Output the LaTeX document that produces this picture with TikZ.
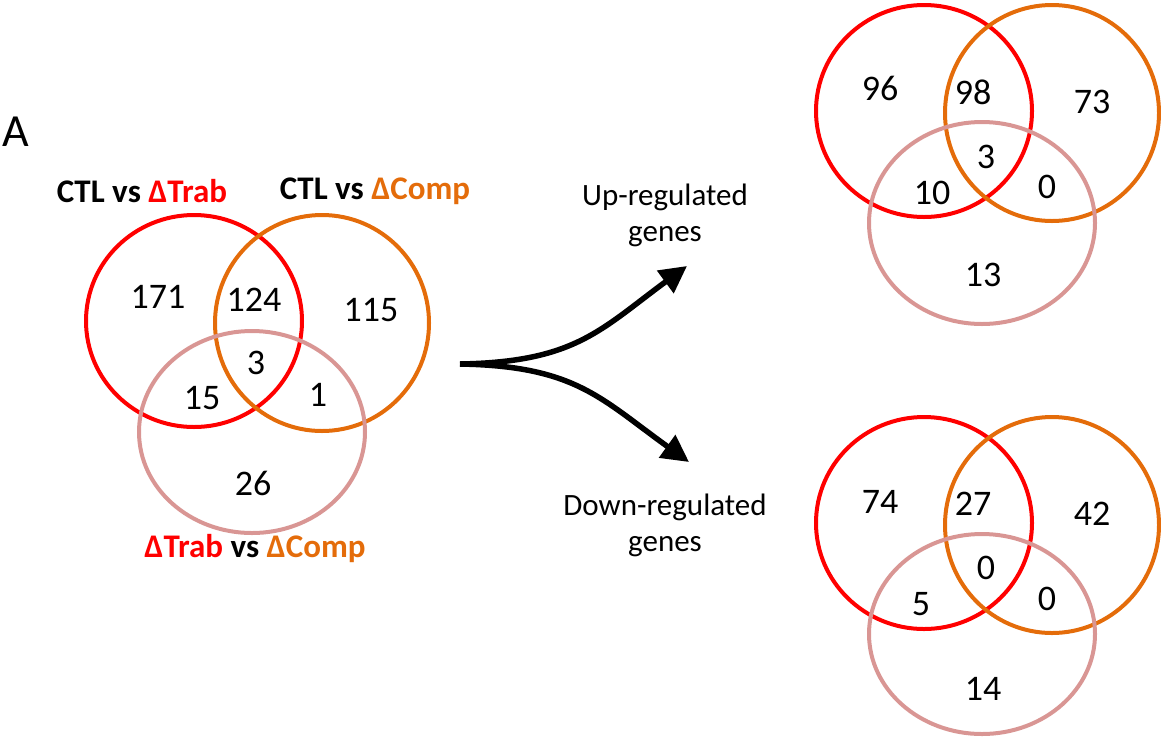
\documentclass[tikz,border=0pt]{standalone}
\usepackage{fontspec}
\setmainfont{Carlito}
\usetikzlibrary{arrows.meta}
\definecolor{vred}{HTML}{FF0000}
\definecolor{vorange}{HTML}{E46C0A}
\definecolor{vpink}{HTML}{D99694}
\begin{document}
\begin{tikzpicture}[x=1pt,y=-1pt,
  ring/.style={line width=4pt},
  num/.style={inner sep=0pt,font=\fontsize{36}{40}\selectfont},
  lab/.style={inner sep=0pt,font=\fontsize{33}{38}\selectfont\bfseries},
  txt/.style={inner sep=0pt,align=center,font=\fontsize{31}{36}\selectfont},
  flow/.style={line width=5.5pt,-{Triangle[length=27pt,width=27pt]}}]
\useasboundingbox (0,0) rectangle (1161,740);
% Panel label
\node[inner sep=0pt,font=\fontsize{46}{50}\selectfont] (A) at (16,132) {A};
% Left Venn
\draw[ring,vred] (194,321) ellipse [x radius=108pt, y radius=106pt];
\draw[ring,vorange] (322,323) ellipse [x radius=107pt, y radius=108pt];
\draw[ring,vpink] (252,432) ellipse [x radius=113pt, y radius=101pt];
\node[lab] (l1) at (142,191) {CTL vs \textcolor{vred}{ΔTrab}};
\node[lab] (l2) at (375,191) {CTL vs \textcolor{vorange}{ΔComp}};
\node[lab] (l3) at (255,549) {\textcolor{vred}{ΔTrab} vs \textcolor{vorange}{ΔComp}};
\node[num] (n1) at (158,297) {171};
\node[num] (n2) at (254,300) {124};
\node[num] (n3) at (371,310) {115};
\node[num] (n4) at (256,363) {3};
\node[num] (n5) at (202,398) {15};
\node[num] (n6) at (318,395) {1};
\node[num] (n7) at (253,483) {26};
% Arrows
\coordinate (src) at (460,364);
\coordinate (upend) at (687,266);
\coordinate (downend) at (689,462);
\draw[flow] (src) .. controls (575,362) and (600,330) .. (upend);
\draw[flow] (src) .. controls (575,366) and (600,398) .. (downend);
\node[txt] (up) at (665,215) {Up-regulated\\genes};
\node[txt] (down) at (665,525) {Down-regulated\\genes};
% Top right Venn
\draw[ring,vred] (924,111) ellipse [x radius=108pt, y radius=106pt];
\draw[ring,vorange] (1052,113) ellipse [x radius=107pt, y radius=108pt];
\draw[ring,vpink] (982,223) ellipse [x radius=113pt, y radius=101pt];
\node[num] (u1) at (880,88) {96};
\node[num] (u2) at (973,92) {98};
\node[num] (u3) at (1092,102) {73};
\node[num] (u4) at (986,157) {3};
\node[num] (u5) at (932,193) {10};
\node[num] (u6) at (1047,187) {0};
\node[num] (u7) at (983,275) {13};
% Bottom right Venn
\draw[ring,vred] (924,523) ellipse [x radius=108pt, y radius=106pt];
\draw[ring,vorange] (1052,525) ellipse [x radius=107pt, y radius=108pt];
\draw[ring,vpink] (982,634) ellipse [x radius=113pt, y radius=100pt];
\node[num] (d1) at (880,502) {74};
\node[num] (d2) at (973,504) {27};
\node[num] (d3) at (1092,514) {42};
\node[num] (d4) at (986,568) {0};
\node[num] (d5) at (921,604) {5};
\node[num] (d6) at (1047,599) {0};
\node[num] (d7) at (983,689) {14};
\end{tikzpicture}
\end{document}
